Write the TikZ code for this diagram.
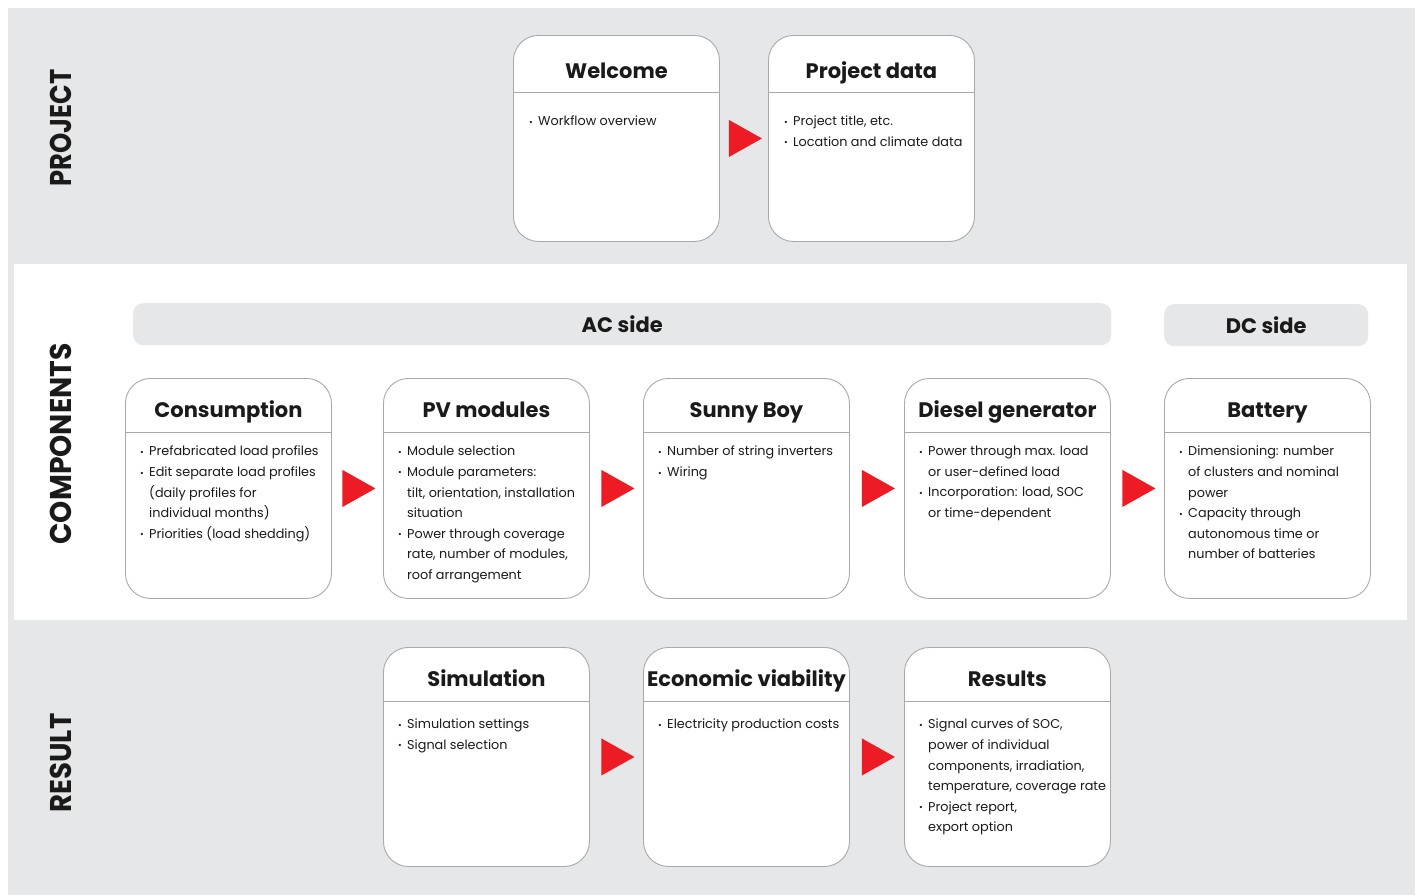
\documentclass[tikz,border=0pt]{standalone}
\usepackage{fontspec}
\setmainfont{Poppins}
\usetikzlibrary{calc}
\definecolor{bandgray}{HTML}{E6E7E8}
\definecolor{boxline}{HTML}{A7A9AC}
\definecolor{arrowred}{HTML}{ED1C24}
\definecolor{ink}{HTML}{1A1A1A}
\newcommand\itm[1]{\makebox[9pt][l]{\raisebox{0.08ex}{\scalebox{0.7}{•}}}#1}
\newcommand\cnt[1]{\hspace*{9pt}#1}
\newcommand\flowarrow[2]{%
  \fill[arrowred] ($(#1.east)!0.5!(#2.west)+(1.5,0)$) ++(-16.5,-18.5) -- ++(33,18.5) -- ++(-33,18.5) -- cycle;}
\begin{document}
\begin{tikzpicture}[x=1pt,y=-1pt,
  stepbox/.style={draw=boxline, line width=0.9pt, fill=white, rounded corners=25pt,
    minimum width=206pt, minimum height=#1, inner sep=0pt, anchor=north west},
  stepbox/.default=220pt,
  boxtitle/.style={font=\fontsize{21}{24}\selectfont\bfseries, text=ink, inner sep=0pt, anchor=base},
  boxbody/.style={font=\fontsize{12.8}{20.6}\selectfont, text=ink, align=left, inner sep=0pt, anchor=north west},
  sidebar/.style={fill=bandgray, rounded corners=10pt, inner sep=0pt, anchor=north west,
    font=\fontsize{21}{24}\selectfont\bfseries, text=ink},
  rowlabel/.style={rotate=90, font=\fontsize{30}{30}\selectfont\bfseries, text=ink, inner sep=0pt}
]
\useasboundingbox (0,0) rectangle (1423,895);
\fill[white] (0,0) rectangle (1423,895);
\fill[bandgray] (8,8) rectangle (1415,895);
\fill[white] (14,264) rectangle (1407,620);

% row labels
\node[rowlabel] (lproject) at (61,128) {\scalebox{0.86}[1]{PROJECT}};
\node[rowlabel] (lcomp) at (61,444) {\scalebox{0.94}[1]{COMPONENTS}};
\node[rowlabel] (lresult) at (61,763) {\scalebox{0.92}[1]{RESULT}};

% side bars
\node[sidebar, minimum width=978pt, minimum height=42pt] (ac) at (133,303) {AC side};
\node[sidebar, minimum width=204pt, minimum height=42pt] (dc) at (1164,304) {DC side};

% PROJECT row
\node[stepbox=206pt] (welcome) at (513,35) {};
\node[stepbox=206pt] (project) at (768,35) {};
\foreach \n/\t in {welcome/Welcome, project/Project data}{
  \draw[boxline, line width=0.9pt] ($(\n.north west)+(0,57)$) -- ($(\n.north east)+(0,57)$);
  \node[boxtitle] (\n-title) at ($(\n.north)+(0,43)$) {\t};
}
\node[boxbody] (welcome-body) at ($(welcome.north west)+(16,81)$) {\itm{Workflow overview}};
\node[boxbody] (project-body) at ($(project.north west)+(16,81)$) {\itm{Project title, etc.}\\\itm{Location and climate data}};
\flowarrow{welcome}{project}

% COMPONENTS row
\node[stepbox] (cons) at (125,378) {};
\node[stepbox] (pv) at (383,378) {};
\node[stepbox] (sb) at (643,378) {};
\node[stepbox] (dg) at (904,378) {};
\node[stepbox] (bat) at (1164,378) {};
\foreach \n/\t in {cons/Consumption, pv/PV modules, sb/Sunny Boy, dg/Diesel generator, bat/Battery}{
  \draw[boxline, line width=0.9pt] ($(\n.north west)+(0,54)$) -- ($(\n.north east)+(0,54)$);
  \node[boxtitle] (\n-title) at ($(\n.north)+(0,39.5)$) {\t};
}
\node[boxbody] (cons-body) at ($(cons.north west)+(15,68)$) {\itm{Prefabricated load profiles}\\\itm{Edit separate load profiles}\\\cnt{(daily profiles for}\\\cnt{individual months)}\\\itm{Priorities (load shedding)}};
\node[boxbody] (pv-body) at ($(pv.north west)+(15,68)$) {\itm{Module selection}\\\itm{Module parameters:}\\\cnt{tilt, orientation, installation}\\\cnt{situation}\\\itm{Power through coverage}\\\cnt{rate, number of modules,}\\\cnt{roof arrangement}};
\node[boxbody] (sb-body) at ($(sb.north west)+(15,68)$) {\itm{Number of string inverters}\\\itm{Wiring}};
\node[boxbody] (dg-body) at ($(dg.north west)+(15,68)$) {\itm{Power through max. load}\\\cnt{or user-defined load}\\\itm{Incorporation: load, SOC}\\\cnt{or time-dependent}};
\node[boxbody] (bat-body) at ($(bat.north west)+(15,68)$) {\itm{Dimensioning: number}\\\cnt{of clusters and nominal}\\\cnt{power}\\\itm{Capacity through}\\\cnt{autonomous time or}\\\cnt{number of batteries}};
\flowarrow{cons}{pv}
\flowarrow{pv}{sb}
\flowarrow{sb}{dg}
\flowarrow{dg}{bat}

% RESULT row
\node[stepbox=219pt] (sim) at (383,647) {};
\node[stepbox=219pt] (eco) at (643,647) {};
\node[stepbox=219pt] (res) at (904,647) {};
\foreach \n/\t in {sim/Simulation, eco/Economic viability, res/Results}{
  \draw[boxline, line width=0.9pt] ($(\n.north west)+(0,54)$) -- ($(\n.north east)+(0,54)$);
  \node[boxtitle] (\n-title) at ($(\n.north)+(0,39.5)$) {\t};
}
\node[boxbody] (sim-body) at ($(sim.north west)+(15,72)$) {\itm{Simulation settings}\\\itm{Signal selection}};
\node[boxbody] (eco-body) at ($(eco.north west)+(15,72)$) {\itm{Electricity production costs}};
\node[boxbody] (res-body) at ($(res.north west)+(15,72)$) {\itm{Signal curves of SOC,}\\\cnt{power of individual}\\\cnt{components, irradiation,}\\\cnt{temperature, coverage rate}\\\itm{Project report,}\\\cnt{export option}};
\flowarrow{sim}{eco}
\flowarrow{eco}{res}
\end{tikzpicture}
\end{document}
